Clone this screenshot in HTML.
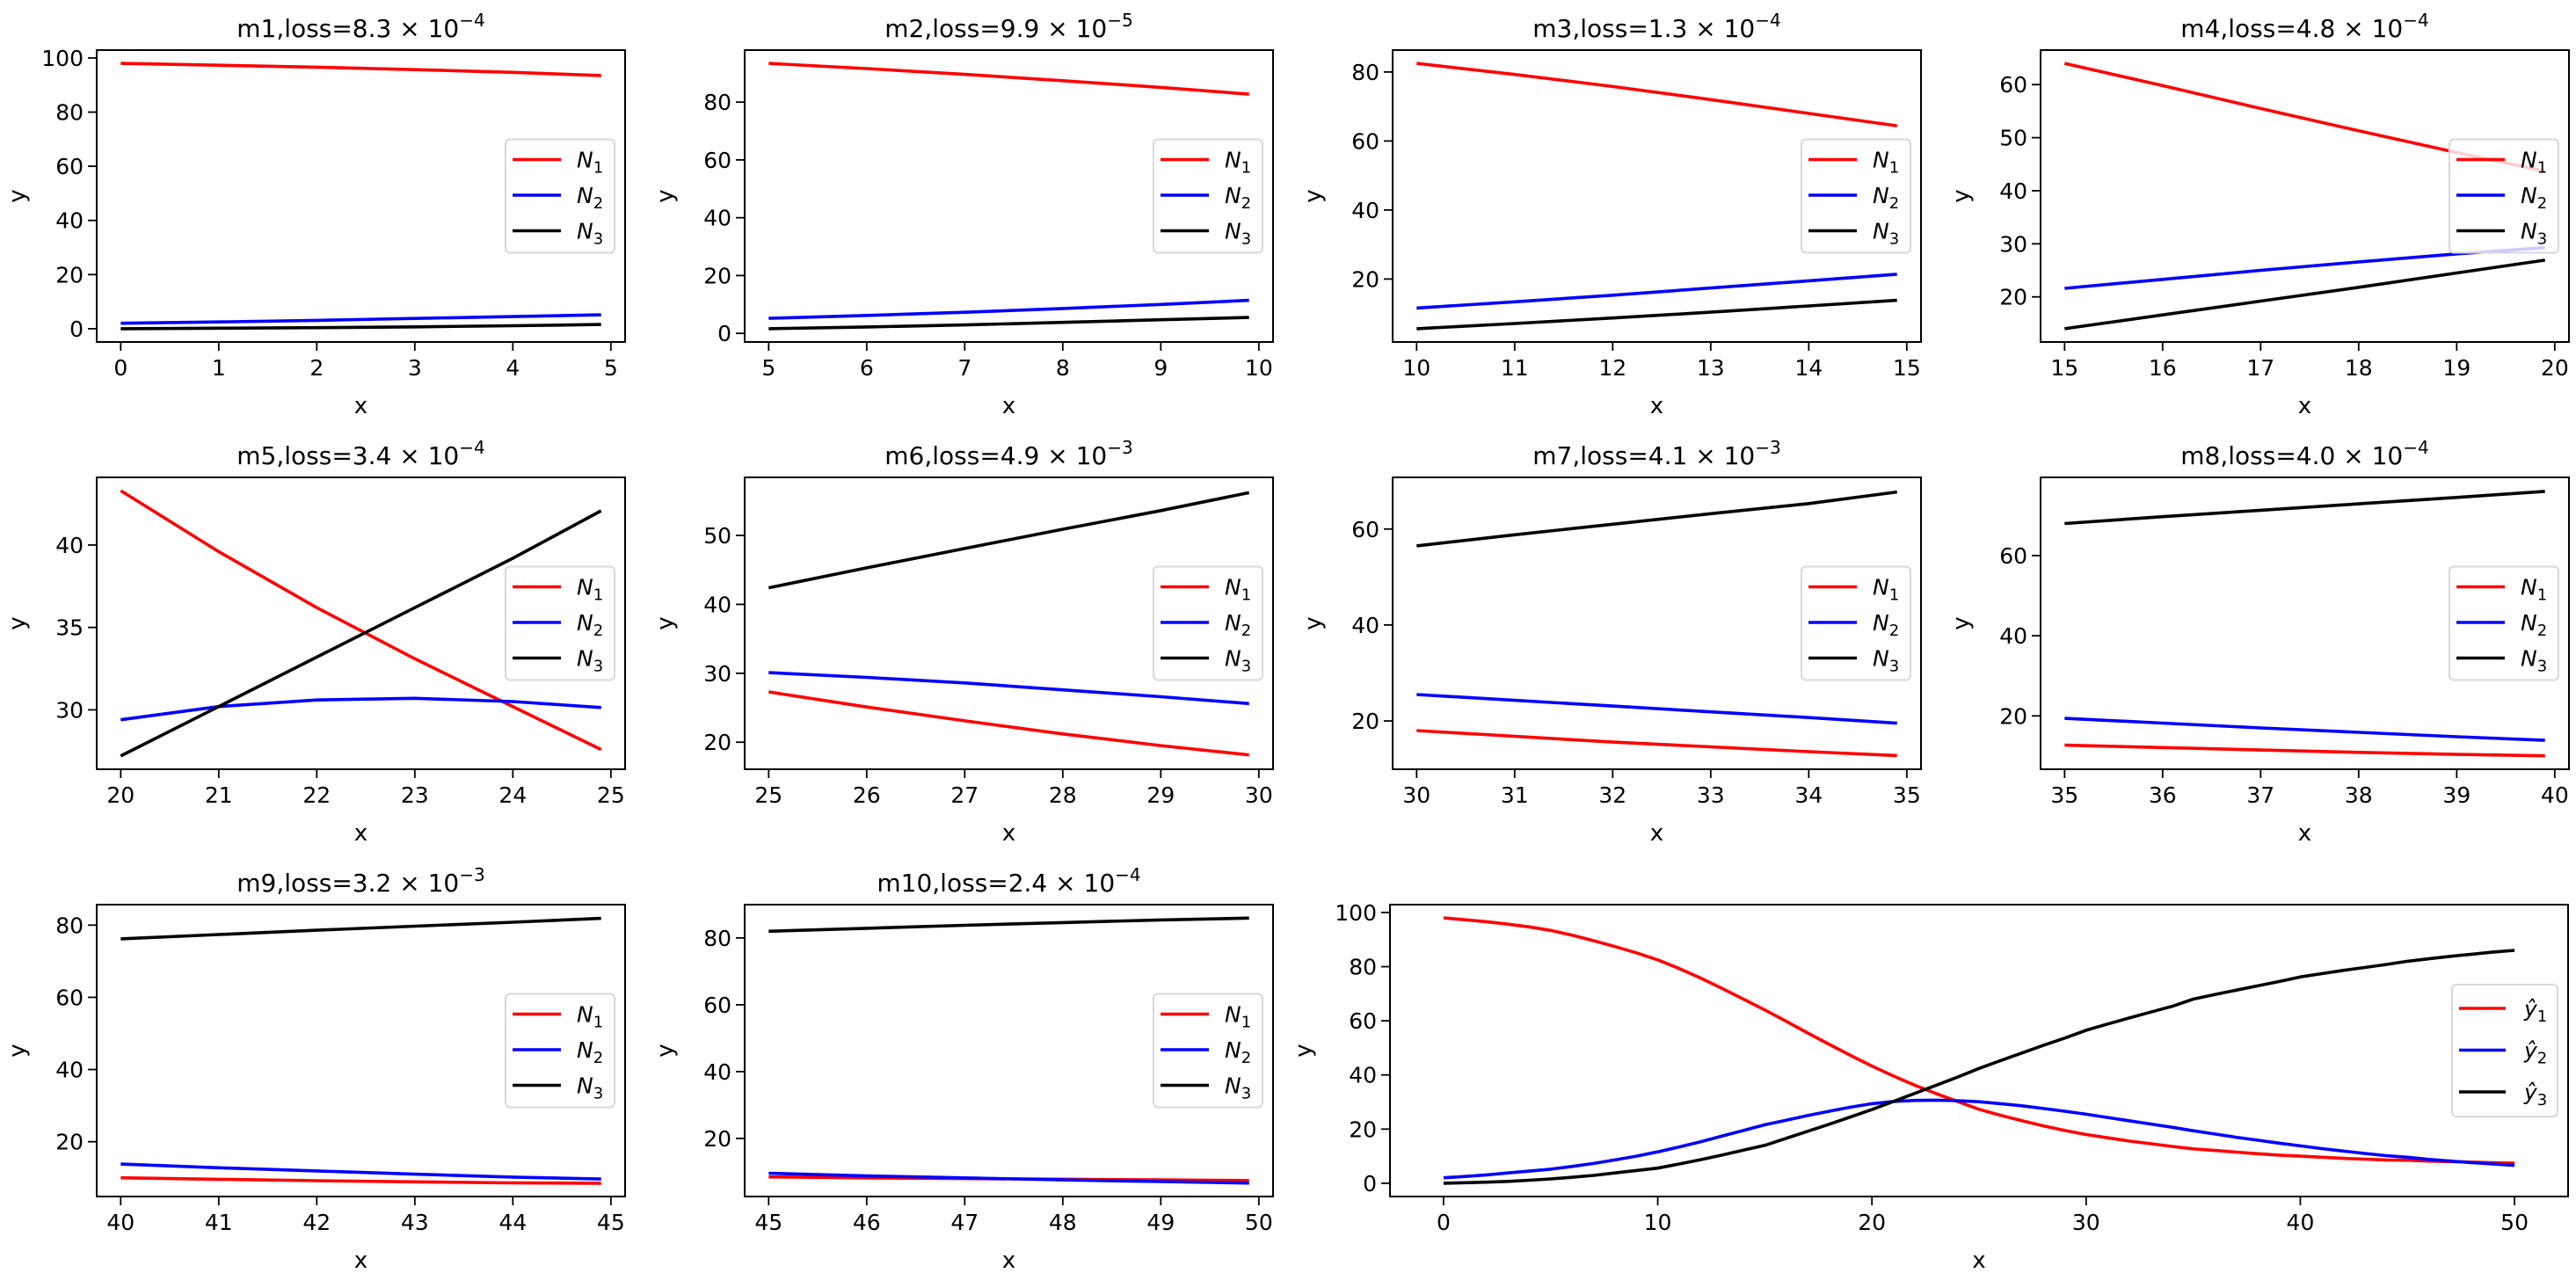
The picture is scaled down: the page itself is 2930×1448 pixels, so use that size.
<!DOCTYPE html>
<html><head><meta charset="utf-8"><style>
body{margin:0;background:#fff}
svg{display:block;font-family:"DejaVu Sans","Liberation Sans",sans-serif}
</style></head><body>
<svg id="fig" width="2930" height="1448" viewBox="0 0 2930 1448" xmlns="http://www.w3.org/2000/svg"></svg>
<script>
const xValues = [0,1,2,3,4,5,6,7,8,9,10,11,12,13,14,15,16,17,18,19,20,21,22,23,24,25,26,27,28,29,30,31,32,33,34,35,36,37,38,39,40,41,42,43,44,45,46,47,48,49,50];
const n1Values = [98,97.3,96.6,95.7,94.7,93.4,91.6,89.6,87.4,85.1,82.5,79.3,75.8,72,68,64,59.8,55.5,51.3,47.2,43.3,39.6,36.2,33.1,30.2,27.3,25.1,23.1,21.2,19.5,18,16.8,15.6,14.6,13.6,12.7,12.1,11.5,10.9,10.4,10,9.6,9.2,8.9,8.6,8.5,8.2,8.0,7.8,7.6,7.4];
const n2Values = [2,2.5,3.1,3.8,4.5,5.2,6.2,7.3,8.6,10,11.6,13.4,15.3,17.4,19.5,21.6,23.3,25,26.6,28.1,29.4,30.2,30.6,30.7,30.5,30.1,29.4,28.6,27.6,26.6,25.5,24.3,23.1,21.9,20.7,19.4,18.2,17,15.9,14.8,13.8,12.8,11.9,11,10.2,9.6,8.8,8.2,7.6,7.1,6.6];
const n3Values = [0,0.2,0.4,0.7,1.1,1.6,2.2,2.9,3.8,4.7,5.6,7.1,8.7,10.4,12.2,14,16.6,19.2,21.8,24.5,27.2,30.2,33.2,36.2,39.2,42.4,45.3,48.1,50.9,53.6,56.5,58.8,61,63.2,65.3,68,69.7,71.3,72.9,74.5,76.2,77.4,78.6,79.7,80.8,82,82.9,83.8,84.6,85.4,86];
const titleNames = ["m1","m2","m3","m4","m5","m6","m7","m8","m9","m10"];
const lossMant = ["8.3","9.9","1.3","4.8","3.4","4.9","4.1","4.0","3.2","2.4"];
const lossExp = ["4","5","4","4","4","3","3","4","3","4"];
const yTicks = [[0,20,40,60,80,100],[0,20,40,60,80],[20,40,60,80],[20,30,40,50,60],[30,35,40],[20,30,40,50],[20,40,60],[20,40,60],[20,40,60,80],[20,40,60,80]];
const bigXTicks = [0,10,20,30,40,50];
const bigYTicks = [0,20,40,60,80,100];

const NS="http://www.w3.org/2000/svg";
const svg=document.getElementById('fig');
function mk(tag,attrs,parent){const e=document.createElementNS(NS,tag);for(const k in attrs)e.setAttribute(k,attrs[k]);(parent||svg).appendChild(e);return e;}
const colors=["#ff0000","#0000ff","#000000"];
const series=[n1Values,n2Values,n3Values];
const seriesNames=["n1","n2","n3"];

function drawAxes(idx,L,T,W,H,x0,x1,ticksX,ticksY,title,isBig){
  const g=mk('g',{});
  
  
  // data indices
  const pts=[];
  for(let i=0;i<xValues.length;i++){ if(xValues[i]>=x0-1e-9 && xValues[i]<=x1+1e-9) pts.push(i); }
  const xEnd = isBig?x1:x1-0.1;
  let ymin=Infinity,ymax=-Infinity;
  series.forEach(s=>pts.forEach(i=>{ymin=Math.min(ymin,s[i]);ymax=Math.max(ymax,s[i]);}));
  const dx=(xEnd-x0)*0.05, dy=(ymax-ymin)*0.05;
  const xa=x0-dx,xb=xEnd+dx,ya=ymin-dy,yb=ymax+dy;
  const sx=v=>L+(v-xa)/(xb-xa)*W;
  const sy=v=>T+H-(v-ya)/(yb-ya)*H;
  // series
  series.forEach((s,k)=>{
    let d='';
    pts.forEach((i,j)=>{
      let xv=xValues[i],yv=s[i];
      if(!isBig && j===pts.length-1){const p=pts[j-1];const f=(xEnd-xValues[p])/(xv-xValues[p]);yv=s[p]+(yv-s[p])*f;xv=xEnd;}
      d+=(j?'L':'M')+sx(xv).toFixed(1)+','+sy(yv).toFixed(1);
    });
    const p=mk('path',{d:d,fill:'none',stroke:colors[k],'stroke-width':3.6,'stroke-linejoin':'round'},g);
    
    
  });
  // frame
  const f=mk('rect',{x:L,y:T,width:W,height:H,fill:'none',stroke:'#000','stroke-width':2},g);
  
  
  // x ticks
  ticksX.forEach(t=>{
    const X=sx(t);
    mk('line',{x1:X,x2:X,y1:T+H,y2:T+H+10,stroke:'#000','stroke-width':1.8},g);
    const tx=mk('text',{x:X,y:T+H+38,'text-anchor':'middle','font-size':25},g);
    tx.textContent=t;
    
    
  });
  ticksY.forEach(t=>{
    const Y=sy(t);
    mk('line',{x1:L-10,x2:L,y1:Y,y2:Y,stroke:'#000','stroke-width':1.8},g);
    const tx=mk('text',{x:L-15,y:Y+9,'text-anchor':'end','font-size':25},g);
    tx.textContent=t;
    
    
  });
  const xl=mk('text',{x:L+W/2,y:T+H+81,'text-anchor':'middle','font-size':26},g);
  xl.textContent='x';
  
  
  const yx=L-(isBig?62:(ticksY[ticksY.length-1]>=100?90:62))+ (isBig?-28:0);
  const yl=mk('text',{x:0,y:0,'text-anchor':'middle','font-size':26,transform:'translate('+(isBig?L-90:L-82)+','+(T+H/2)+') rotate(-90)'},g);
  yl.textContent='y';
  
  
  if(title){
    const tt=mk('text',{x:L+W/2,y:T-15,'text-anchor':'middle','font-size':28},g);
    
    
    tt.appendChild(document.createTextNode(title[0]+',loss='+title[1]+' \u00d7 10'));
    const sup=mk('tspan',{dy:-12,'font-size':20},tt);
    sup.textContent='\u2212'+title[2];
  }
  // legend
  const lw=isBig?120:124, lh=isBig?150:129;
  const lx=L+W-12-lw, ly=T+H/2-lh/2;
  const lg=mk('g',{},g);
  
  
  mk('rect',{x:lx,y:ly,width:lw,height:lh,rx:5,fill:'#fff','fill-opacity':0.8,stroke:'#d8d8d8','stroke-width':2},lg);
  const rowGap=isBig?47.5:40.5, first=isBig?27:23;
  for(let k=0;k<3;k++){
    const ry=ly+first+k*rowGap;
    const e=mk('g',{},lg);
    
    
    mk('line',{x1:lx+8,x2:lx+(isBig?61:63),y1:ry,y2:ry,stroke:colors[k],'stroke-width':3.6},e);
    const t=mk('text',{x:lx+(isBig?82:81),y:ry+9,'font-size':25},e);
    if(isBig){
      const a=mk('tspan',{'font-style':'italic'},t); a.textContent='\u0177';
    } else {
      const a=mk('tspan',{'font-style':'italic'},t); a.textContent='N';
    }
    const b=mk('tspan',{dy:6,'font-size':18},t); b.textContent=(k+1);
  }
}
const lefts=[110,847,1584,2321], tops=[57,543,1029], W=601, H=332;
for(let m=0;m<10;m++){
  const r=Math.floor(m/4), c=m%4;
  const x0=5*m, x1=5*m+5;
  const tx=[];for(let v=x0;v<=x1;v++)tx.push(v);
  drawAxes(m,lefts[c],tops[r],W,H,x0,x1,tx,yTicks[m],[titleNames[m],lossMant[m],lossExp[m]],false);
}
drawAxes(10,1581,1029,1340,H,0,50,bigXTicks,bigYTicks,null,true);
</script>
</body></html>
